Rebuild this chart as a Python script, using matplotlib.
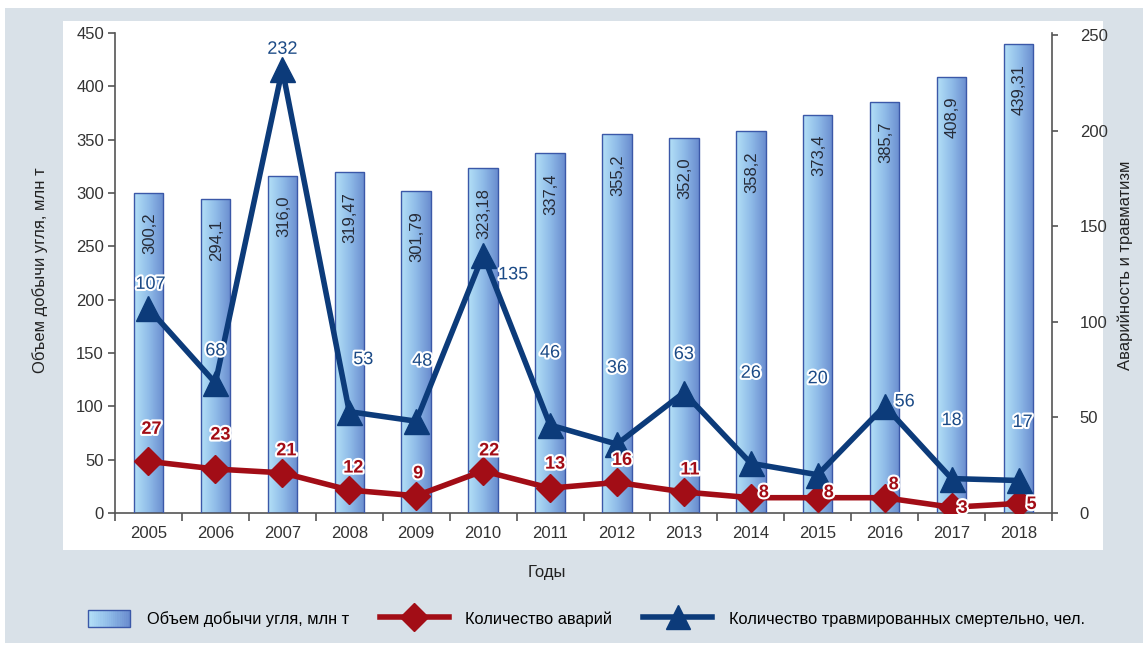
import matplotlib
matplotlib.use("Agg")
import matplotlib.pyplot as plt
import matplotlib.patheffects as pe
import numpy as np
from matplotlib.patches import Rectangle, Patch
from matplotlib.lines import Line2D
from matplotlib.legend_handler import HandlerBase
from matplotlib.colors import LinearSegmentedColormap

plt.rcParams["font.family"] = ["Liberation Sans", "DejaVu Sans"]

years = ["2005", "2006", "2007", "2008", "2009", "2010", "2011",
         "2012", "2013", "2014", "2015", "2016", "2017", "2018"]
coal_output = [300.2, 294.1, 316.0, 319.47, 301.79, 323.18, 337.4,
               355.2, 352.0, 358.2, 373.4, 385.7, 408.9, 439.31]
coal_labels = ["300,2", "294,1", "316,0", "319,47", "301,79", "323,18", "337,4",
               "355,2", "352,0", "358,2", "373,4", "385,7", "408,9", "439,31"]
accidents = [27, 23, 21, 12, 9, 22, 13, 16, 11, 8, 8, 8, 3, 5]
fatalities = [107, 68, 232, 53, 48, 135, 46, 36, 63, 26, 20, 56, 18, 17]

# label offsets in pixels (dx, dy) for each series
fatal_offsets = [(2, 24), (0, 32), (0, 20), (14, 52), (6, 60), (30, -20), (0, 72),
                 (0, 76), (0, 38), (0, 90), (0, 96), (20, 4), (0, 58), (4, 58)]
acc_offsets = [(3, 32), (5, 34), (4, 22), (4, 22), (2, 22), (6, 20), (5, 24),
               (5, 22), (6, 22), (13, 5), (11, 5), (9, 13), (11, -1), (13, -1)]

BG = "#d9e1e8"
RED = "#a20d16"
BLUE = "#0c3b7a"
BAR_EDGE = "#3b58a8"
bar_cmap = LinearSegmentedColormap.from_list("bar", ["#b3e0f7", "#8fbbe8", "#6a8dcf"])
gradient = np.linspace(0, 1, 64).reshape(1, -1)


class GradientHandler(HandlerBase):
    # legend key drawn as a small left-to-right gradient box, right-aligned in the slot
    def create_artists(self, legend, orig_handle, xdescent, ydescent,
                       width, height, fontsize, trans):
        artists = []
        n = 20
        w = width * 0.62
        x0 = -xdescent + width - w
        y0 = -ydescent - 1
        h = height + 2
        for i in range(n):
            r = Rectangle((x0 + w * i / n, y0), w / n + 0.3, h,
                          facecolor=bar_cmap(i / (n - 1)), edgecolor="none", transform=trans)
            artists.append(r)
        artists.append(Rectangle((x0, y0), w, h, facecolor="none",
                                 edgecolor=BAR_EDGE, lw=1.0, transform=trans))
        return artists


W, H = 1143, 646
fig = plt.figure(figsize=(W / 100, H / 100), dpi=100, facecolor="white")

# grey card and white plotting panel
fig.patches.append(Rectangle((5 / W, 3 / H), 1 - 5 / W, 635 / H, transform=fig.transFigure,
                             facecolor=BG, edgecolor="none", zorder=-10))
fig.patches.append(Rectangle((63 / W, 96 / H), 1040 / W, 529 / H, transform=fig.transFigure,
                             facecolor="white", edgecolor="none", zorder=-9))

ax = fig.add_axes([115 / W, 133 / H, 937 / W, 480 / H])
ax.patch.set_alpha(0)
x = np.arange(len(years))

bars = ax.bar(x, coal_output, width=0.44, facecolor="none", edgecolor=BAR_EDGE, lw=1.0, zorder=3)
for b in bars:
    bx, by = b.get_x(), b.get_y()
    im = ax.imshow(gradient, cmap=bar_cmap, aspect="auto", interpolation="bicubic",
                   extent=(bx, bx + b.get_width(), by, by + b.get_height()), zorder=2)
    im.set_clip_path(b)

for xi, v, lab in zip(x, coal_output, coal_labels):
    ax.annotate(lab, (xi, v), xytext=(1, -20), textcoords="offset pixels",
                rotation=90, ha="center", va="top", fontsize=12, color="#262b38", zorder=4)

ax.set_xlim(-0.5, len(years) - 0.5)
ax.set_ylim(0, 450)
ax.set_yticks(np.arange(0, 451, 50))
ax.set_xticks(x)
ax.set_xticklabels(years)
ax.set_xticks(np.arange(-0.5, len(years), 1), minor=True)
ax.tick_params(axis="x", which="major", length=0, pad=9, labelsize=12, colors="#333333")
ax.tick_params(axis="x", which="minor", length=6, width=1.2, color="#555555", direction="out")
ax.tick_params(axis="y", length=5, width=1.2, color="#555555", labelsize=12,
               labelcolor="#333333", pad=3)
for s in ("top", "right"):
    ax.spines[s].set_visible(False)
for s in ("left", "bottom"):
    ax.spines[s].set_color("#555555")
    ax.spines[s].set_linewidth(1.2)

ax2 = ax.twinx()
ax2.set_ylim(0, 251)
ax2.set_yticks(np.arange(0, 251, 50))
ax2.tick_params(axis="y", length=4, width=1.2, color="#555555", labelsize=12,
                labelcolor="#333333", pad=16)
for s in ("top", "left", "bottom"):
    ax2.spines[s].set_visible(False)
ax2.spines["right"].set_color("#555555")
ax2.spines["right"].set_linewidth(1.2)

halo = [pe.withStroke(linewidth=3, foreground="white")]

ax2.plot(x, accidents, color=RED, lw=4, marker="D", markersize=14, zorder=5)
ax2.plot(x, fatalities, color=BLUE, lw=4, marker="^", markersize=18, zorder=6)

for xi, v, (dx, dy) in zip(x, accidents, acc_offsets):
    ax2.annotate(str(v), (xi, v), xytext=(dx, dy), textcoords="offset pixels",
                 ha="center", va="center", fontsize=13, fontweight="bold",
                 color=RED, path_effects=halo, zorder=7)
for xi, v, (dx, dy) in zip(x, fatalities, fatal_offsets):
    ax2.annotate(str(v), (xi, v), xytext=(dx, dy), textcoords="offset pixels",
                 ha="center", va="center", fontsize=13, color="#1b4a86",
                 path_effects=halo, zorder=7)

fig.text(40 / W, 1 - 270 / H, "Объем добычи угля, млн т", rotation=90,
         ha="center", va="center", fontsize=12, color="#222222")
fig.text(1125 / W, 1 - 265 / H, "Аварийность и травматизм", rotation=90,
         ha="center", va="center", fontsize=12, color="#222222")
fig.text(547 / W, 1 - 573 / H, "Годы", ha="center", va="center",
         fontsize=12, color="#222222")

handles = [
    Patch(facecolor="#8fbbe8", edgecolor=BAR_EDGE),
    Line2D([], [], color=RED, lw=4, marker="D", markersize=14),
    Line2D([], [], color=BLUE, lw=4, marker="^", markersize=17),
]
labels = ["Объем добычи угля, млн т", "Количество аварий",
          "Количество травмированных смертельно, чел."]
fig.legend(handles, labels, loc="center", bbox_to_anchor=(573 / W, 1 - 619 / H),
           ncol=3, frameon=False, fontsize=11.8, handlelength=4.2, handleheight=1.0,
           columnspacing=1.9, handletextpad=1.0,
           handler_map={Patch: GradientHandler()})

fig.savefig("out.png", dpi=100)
